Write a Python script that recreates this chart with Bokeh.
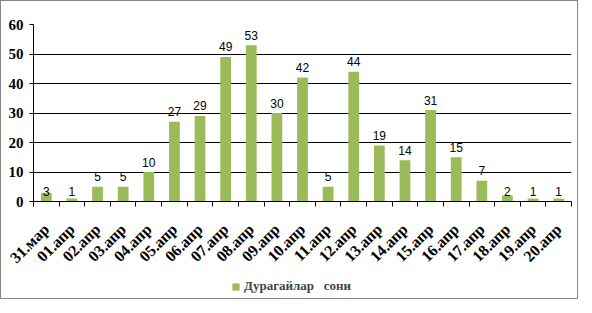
import numpy as np
from bokeh.plotting import figure
from bokeh.layouts import column
from bokeh.models import (Range1d, FixedTicker, ColumnDataSource, Legend, LegendItem)
from bokeh.core.properties import value
from bokeh.embed import file_html
from bokeh.resources import INLINE

dates = ["31.мар", "01.апр", "02.апр", "03.апр", "04.апр", "05.апр", "06.апр",
         "07.апр", "08.апр", "09.апр", "10.апр", "11.апр", "12.апр", "13.апр",
         "14.апр", "15.апр", "16.апр", "17.апр", "18.апр", "19.апр", "20.апр"]
counts = [3, 1, 5, 5, 10, 27, 29, 49, 53, 30, 42, 5, 44, 19, 14, 31, 15, 7, 2, 1, 1]
series_name = "Дурагайлар   сони"
y_ticks = [0, 10, 20, 30, 40, 50, 60]

n = len(dates)
centers = [i + 0.5 for i in range(n)]
bounds = list(range(n + 1))
vals = np.array(counts)
label_y = np.where(vals < 5, 0, vals)

src = ColumnDataSource(dict(x=centers, top=counts, ly=label_y,
                            txt=[str(c) for c in counts]))

GREEN = "#9BBB59"
SERIF = "Liberation Serif"

p = figure(width=576, height=274, output_backend="svg", toolbar_location=None,
           x_range=Range1d(0, n), y_range=Range1d(0, 60),
           min_border_left=32, min_border_right=6, min_border_top=23,
           min_border_bottom=60)
p.outline_line_color = None

r = p.vbar(x="x", top="top", width=0.42, source=src, fill_color=GREEN,
           line_color=None)
p.text(x="x", y="ly", text="txt", source=src, text_align="center",
       text_baseline="alphabetic", y_offset=-10, text_font=value("Liberation Sans"),
       text_font_size="12px", text_color="black")

# axes
xa = p.xaxis[0]
xa.ticker = FixedTicker(ticks=centers, minor_ticks=bounds)
xa.major_label_overrides = {c: d for c, d in zip(centers, dates)}
xa.major_tick_out = 0
xa.major_tick_in = 0
xa.minor_tick_out = 5
xa.minor_tick_in = 0
xa.minor_tick_line_color = "black"
xa.axis_line_color = "black"
xa.major_label_orientation = np.pi / 4
xa.major_label_text_font = SERIF
xa.major_label_text_font_style = "bold"
xa.major_label_text_font_size = "16px"
xa.major_label_text_color = "black"
xa.major_label_standoff = 20

ya = p.yaxis[0]
ya.ticker = FixedTicker(ticks=y_ticks)
ya.minor_tick_line_color = None
ya.major_tick_out = 4
ya.major_tick_in = 0
ya.axis_line_color = "black"
ya.major_tick_line_color = "black"
ya.major_label_text_font = SERIF
ya.major_label_text_font_style = "bold"
ya.major_label_text_font_size = "15px"
ya.major_label_text_color = "black"
ya.major_label_standoff = 6

p.xgrid.grid_line_color = None
p.ygrid.ticker = FixedTicker(ticks=y_ticks[1:])
p.ygrid.grid_line_color = "black"
p.ygrid.grid_line_alpha = 1.0

# legend strip below the chart
p2 = figure(width=576, height=23, output_backend="svg", toolbar_location=None,
            x_range=Range1d(0, 1), y_range=Range1d(0, 1), min_border=0,
            x_axis_location=None, y_axis_location=None)
p2.grid.visible = False
p2.outline_line_color = None
lr = p2.vbar(x=[0.5], top=[0], bottom=[0], width=0.0, fill_color=GREEN,
             line_color=None)
legend = Legend(items=[LegendItem(label=series_name, renderers=[lr])],
                location=(198, 4), border_line_color=None,
                background_fill_alpha=0, glyph_width=9, glyph_height=9,
                label_text_font=SERIF, label_text_font_style="bold",
                label_text_font_size="13px", label_standoff=4, padding=2, margin=0)
p2.add_layout(legend, "center")

layout = column(p, p2, spacing=0)
layout.styles = {"border": "1px solid #868686", "box-sizing": "border-box"}

open("out.html", "w").write(file_html(layout, INLINE))
